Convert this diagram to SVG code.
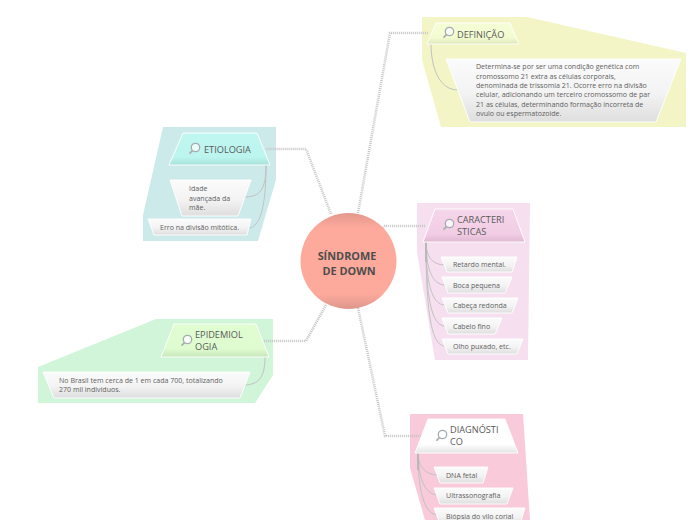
<svg xmlns="http://www.w3.org/2000/svg" width="696" height="520" viewBox="0 0 696 520">
<style>
text{font-family:"Open Sans","Noto Sans","DejaVu Sans",sans-serif;fill:#595959}
.t{font-size:9.2px}
.d{font-size:7.05px;fill:#606060}
.c{font-size:10.9px;font-weight:700;fill:#4d4d4d}
.n{stroke:#fff;stroke-width:1;stroke-opacity:.9}
.conn{fill:none;stroke:#c6c6c6;stroke-width:2.6;stroke-dasharray:1 1}
.sub{fill:none;stroke:#c2c2c2;stroke-width:1}
.lens{fill:#fff;fill-opacity:.75;stroke:#a3acb0;stroke-width:1.3}
.lh{stroke:#aeb0b0;stroke-width:1.8;fill:none;stroke-linecap:round}
</style>
<defs>
<linearGradient id="gw" x1="0" y1="0" x2="0" y2="1"><stop offset="0" stop-color="#fbfbfb"/><stop offset=".55" stop-color="#f3f3f3"/><stop offset="1" stop-color="#dedede"/></linearGradient>
<linearGradient id="gn" x1="0" y1="0" x2="0" y2="1"><stop offset="0" stop-color="#fff"/><stop offset=".75" stop-color="#fefefe"/><stop offset="1" stop-color="#e4e4e4"/></linearGradient>
<linearGradient id="gc" x1="0" y1="0" x2="0" y2="1"><stop offset="0" stop-color="#e3988c"/><stop offset=".16" stop-color="#fdaa9c"/><stop offset=".84" stop-color="#fdaa9c"/><stop offset="1" stop-color="#dd978b"/></linearGradient>
<linearGradient id="gy" x1="0" y1="0" x2="0" y2="1"><stop offset="0" stop-color="#f5fdd6"/><stop offset=".7" stop-color="#f3fcd0"/><stop offset="1" stop-color="#dfe8bd"/></linearGradient>
<linearGradient id="gt" x1="0" y1="0" x2="0" y2="1"><stop offset="0" stop-color="#c0f6f0"/><stop offset=".75" stop-color="#bcf5ee"/><stop offset="1" stop-color="#a8e0da"/></linearGradient>
<linearGradient id="gg" x1="0" y1="0" x2="0" y2="1"><stop offset="0" stop-color="#e0fdd2"/><stop offset=".75" stop-color="#defccf"/><stop offset="1" stop-color="#c8e6bb"/></linearGradient>
<linearGradient id="gp" x1="0" y1="0" x2="0" y2="1"><stop offset="0" stop-color="#f5d6ea"/><stop offset=".75" stop-color="#f2cde5"/><stop offset="1" stop-color="#e0b9d2"/></linearGradient>
<g id="lens"><circle cx="1.5" cy="-1.5" r="4.2" class="lens"/><path d="M-1.6 1.6L-4 4.200" class="lh"/></g>
</defs>
<polygon points="422,17 527,17 686,53 686,127 441,127 422,60" fill="#f4f5c6"/>
<polygon points="163,127 276,127 276,180 258,241 143,241 143,215" fill="#cdeaeb"/>
<polygon points="156,319 273,319 273,375 255,403 38,403 38,367" fill="#d0f5d8"/>
<polygon points="417,203 530,203 528,360 435,360 417,252" fill="#f6e0f0"/>
<polygon points="410,414 523,414 530,520 425,520 410,468" fill="#f9cad9"/>
<g id="connectors">
<path class="conn" d="M358 213L390 33H428"/>
<path class="conn" d="M331 214L306 149H266"/>
<path class="conn" d="M326 305L306 341H262"/>
<path class="conn" d="M375 237L385 226H425"/>
<path class="conn" d="M358 308L385 436H421"/>
<path class="sub" d="M431 44C431 65 438 90 458 90"/>
<path class="sub" d="M266 165C266 190 260 197 244 197"/>
<path class="sub" d="M266 165C266 200 262 228 248 228"/>
<path class="sub" d="M265 357C265 375 260 385 244 385"/>
<path class="sub" d="M426 242C426 255 431 265 445 265"/>
<path class="sub" d="M426 242C426 265 431 285 445 285"/>
<path class="sub" d="M426 242C426 280 431 305 445 305"/>
<path class="sub" d="M426 242C426 295 431 326 445 326"/>
<path class="sub" d="M426 242C426 310 431 346 445 346"/>
<path class="sub" d="M418 453C418 465 424 475 438 475"/>
<path class="sub" d="M418 453C418 475 424 495 438 495"/>
<path class="sub" d="M418 453C418 490 424 515 438 515"/>
<path d="M426 243V262M418 454V470" stroke="#b5b5b5" stroke-width="1.6" fill="none"/>
</g>
<g id="definicao">
<polygon class="n" points="436,23 510,23 519,44 427,44" fill="url(#gy)"/>
<use href="#lens" x="448" y="33"/>
<text class="t" x="457" y="38">DEFINIÇÃO</text>
</g>
<g id="definicao-texto">
<polygon class="n" points="446,59 681,59 656,122 470,122" fill="url(#gw)"/>
<text class="d"><tspan x="476" y="69">Determina-se por ser uma condição genética com</tspan><tspan x="476" y="78.500">cromossomo 21 extra as células corporais,</tspan><tspan x="476" y="88">denominada de trissomia 21. Ocorre erro na divisão</tspan><tspan x="476" y="97">celular, adicionando um terceiro cromossomo de par</tspan><tspan x="476" y="106.500">21 as células, determinando formação incorreta de</tspan><tspan x="476" y="116">ovulo ou espermatozoide.</tspan></text>
</g>
<g id="etiologia">
<polygon class="n" points="183,133 257,133 270,165 169,165" fill="url(#gt)"/>
<use href="#lens" x="194" y="149"/>
<text class="t" x="204" y="153">ETIOLOGIA</text>
</g>
<g id="etiologia-1">
<polygon class="n" points="170,180 251,180 238,216 182,216" fill="url(#gw)"/>
<text class="d"><tspan x="189" y="191">Idade</tspan><tspan x="189" y="200.500">avançada da</tspan><tspan x="189" y="210">mãe.</tspan></text>
</g>
<g id="etiologia-2">
<polygon class="n" points="148,219 251,219 247,235 154,235" fill="url(#gw)"/>
<text class="d" x="160" y="230">Erro na divisão mitótica.</text>
</g>
<g id="epidemiologia">
<polygon class="n" points="174,324 256,324 269,357 161,357" fill="url(#gg)"/>
<use href="#lens" x="186" y="341"/>
<text class="t"><tspan x="195" y="338">EPIDEMIOL</tspan><tspan x="195" y="350">OGIA</tspan></text>
</g>
<g id="epidemiologia-1">
<polygon class="n" points="43,372 250,372 240,398 54,398" fill="url(#gw)"/>
<text class="d"><tspan x="59" y="383">No Brasil tem cerca de 1 em cada 700, totalizando</tspan><tspan x="59" y="392">270 mil indivíduos.</tspan></text>
</g>
<g id="caracteristicas">
<polygon class="n" points="435,209 513,209 525,242 423,242" fill="url(#gp)"/>
<use href="#lens" x="448" y="225"/>
<text class="t"><tspan x="457" y="223">CARACTERI</tspan><tspan x="457" y="235">STICAS</tspan></text>
</g>
<g id="c1"><polygon class="n" points="441,257 517,257 512,272 447,272" fill="url(#gw)"/><text class="d" x="453" y="267">Retardo mental.</text></g>
<g id="c2"><polygon class="n" points="442,277 512,277 505,293 448,293" fill="url(#gw)"/><text class="d" x="453" y="288">Boca pequena</text></g>
<g id="c3"><polygon class="n" points="442,298 518,298 512,313 448,313" fill="url(#gw)"/><text class="d" x="453" y="308">Cabeça redonda</text></g>
<g id="c4"><polygon class="n" points="442,318 502,318 495,334 448,334" fill="url(#gw)"/><text class="d" x="453" y="329">Cabelo fino</text></g>
<g id="c5"><polygon class="n" points="442,339 523,339 517,354 448,354" fill="url(#gw)"/><text class="d" x="453" y="349">Olho puxado, etc.</text></g>
<g id="diagnostico">
<polygon class="n" points="428,419 505,419 518,453 415,453" fill="url(#gn)"/>
<use href="#lens" x="441" y="436"/>
<text class="t"><tspan x="450" y="433">DIAGNÓSTI</tspan><tspan x="450" y="445">CO</tspan></text>
</g>
<g id="d1"><polygon class="n" points="434,467 488,467 483,483 440,483" fill="url(#gw)"/><text class="d" x="446" y="478">DNA fetal</text></g>
<g id="d2"><polygon class="n" points="434,488 513,488 507,504 440,504" fill="url(#gw)"/><text class="d" x="446" y="498">Ultrassonografia</text></g>
<g id="d3"><polygon class="n" points="434,508 525,508 520,524 440,524" fill="url(#gw)"/><text class="d" x="446" y="519">Biópsia do vilo corial</text></g>
<g id="central">
<circle cx="348.500" cy="261" r="48" fill="url(#gc)"/>
<text class="c" text-anchor="middle"><tspan x="347" y="260">SÍNDROME</tspan><tspan x="349" y="275">DE DOWN</tspan></text>
</g>
</svg>
